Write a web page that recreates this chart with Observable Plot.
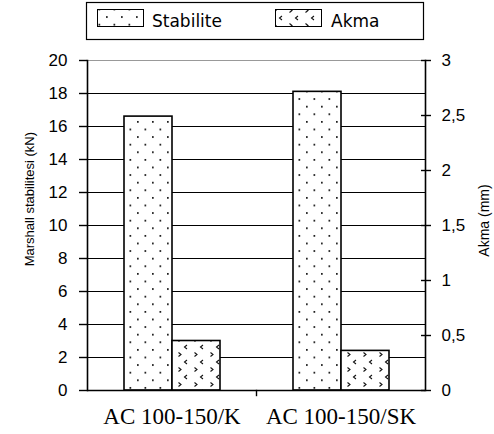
<!DOCTYPE html>
<html>
<head>
<meta charset="utf-8">
<script src="https://cdn.jsdelivr.net/npm/d3@7"></script>
<script src="https://cdn.jsdelivr.net/npm/@observablehq/plot@0.6"></script>
<style>
  html, body { margin: 0; padding: 0; background: #fff; }
  #legend { display: block; }
</style>
</head>
<body>
<svg id="legend" width="494" height="44" xmlns="http://www.w3.org/2000/svg">
  <defs>
    <pattern id="dots" patternUnits="userSpaceOnUse" width="15" height="15.2">
      <rect width="15" height="15.2" fill="#fff"/>
      <rect x="1" y="1" width="1.7" height="1.7" fill="#111"/>
      <rect x="8.5" y="8.6" width="1.7" height="1.7" fill="#111"/>
    </pattern>
    <pattern id="chev" patternUnits="userSpaceOnUse" width="16" height="15">
      <rect width="16" height="15" fill="#fff"/>
      <path d="M10,1 L7.5,3 L10,5" fill="none" stroke="#111" stroke-width="1.1"/>
      <path d="M1.5,8.5 L4,10.5 L1.5,12.5" fill="none" stroke="#111" stroke-width="1.1"/>
    </pattern>
  </defs>
  <rect x="86.5" y="2.5" width="337" height="37" fill="#fff" stroke="#000" stroke-width="1.2"/>
  <rect x="97.5" y="9.5" width="46" height="17" fill="url(#dots)" stroke="#000" stroke-width="1"/>
  <text x="152" y="27" font-family="DejaVu Sans" font-size="17">Stabilite</text>
  <rect x="275.5" y="9.5" width="46" height="17" fill="url(#chev)" stroke="#000" stroke-width="1"/>
  <text x="331" y="27" font-family="DejaVu Sans" font-size="17">Akma</text>
</svg>
<div id="chart"></div>
<script>
// Data
const categories = ["AC 100-150/K", "AC 100-150/SK"];
const series = ["Stabilite", "Akma"];
const stabilite = [16.6, 18.1];   // kN (left axis)
const akma = [0.45, 0.36];        // mm (right axis)
const leftTicks = [0, 2, 4, 6, 8, 10, 12, 14, 16, 18, 20];
const rightTicks = [0, 0.5, 1, 1.5, 2, 2.5, 3];
const leftMax = 20, rightMax = 3;

const toLeft = v => v * leftMax / rightMax;
const toRight = v => v * rightMax / leftMax;

const table = [];
categories.forEach((c, i) => {
  table.push({cat: c, series: "Stabilite", value: stabilite[i], plotValue: stabilite[i]});
  table.push({cat: c, series: "Akma", value: akma[i], plotValue: toLeft(akma[i])});
});

const fmtRight = v => {
  const r = Math.round(toRight(v) * 10) / 10;
  return String(r).replace(".", ",");
};

const chart = Plot.plot({
  width: 494,
  height: 390,
  marginLeft: 86,
  marginRight: 69,
  marginTop: 16,
  marginBottom: 44,
  style: {fontFamily: "Liberation Sans", fontSize: "17px", background: "white", overflow: "visible", color: "#000"},
  y: {domain: [0, leftMax]},
  fx: {domain: categories, padding: 0},
  x: {domain: series, paddingInner: 0, paddingOuter: 0.73, axis: null},
  color: {domain: series, range: ["url(#dots)", "url(#chev)"]},
  marks: [
    Plot.ruleY(leftTicks.filter(d => d > 0 && d < leftMax), {stroke: "#000", strokeWidth: 1.2}),
    Plot.ruleY([leftMax], {stroke: "#999", strokeWidth: 1.2}),
    Plot.barY(table, {fx: "cat", x: "series", y: "plotValue", fill: "series", stroke: "#000", strokeWidth: 1.6}),
    Plot.ruleY([0], {stroke: "#000", strokeWidth: 1.6}),
    Plot.frame({anchor: "left", facetAnchor: "left", stroke: "#000", strokeWidth: 1.6}),
    Plot.frame({anchor: "right", facetAnchor: "right", stroke: "#000", strokeWidth: 1.6}),
    Plot.frame({anchor: "left", facetAnchor: "right", stroke: "#000", strokeWidth: 1.4, insetTop: 330, insetBottom: -5}),
    Plot.axisY({anchor: "left", ticks: leftTicks, tickSize: 8, tickPadding: 12, label: null, strokeWidth: 1.4}),
    Plot.axisY({anchor: "right", ticks: rightTicks.map(toLeft), tickSize: 10, dx: -5, text: null, label: null, strokeWidth: 1.4}),
    Plot.axisY({anchor: "right", ticks: rightTicks.map(toLeft), tickSize: 0, tickPadding: 16, tickFormat: fmtRight, label: null}),
    Plot.axisFx({anchor: "bottom", tickSize: 0, tickPadding: 17, label: null, fontFamily: "Liberation Serif", fontSize: 23}),
    Plot.text(["Marshall stabilitesi (kN)"], {frameAnchor: "left", facetAnchor: "left", y: () => 11.6, dx: -58, rotate: -90, textAnchor: "middle", fontSize: 13}),
    Plot.text(["Akma (mm)"], {frameAnchor: "right", facetAnchor: "right", y: () => 10.3, dx: 59, rotate: -90, textAnchor: "middle", fontSize: 14, fontFamily: "Liberation Sans"})
  ]
});
document.getElementById("chart").appendChild(chart);
</script>
</body>
</html>
